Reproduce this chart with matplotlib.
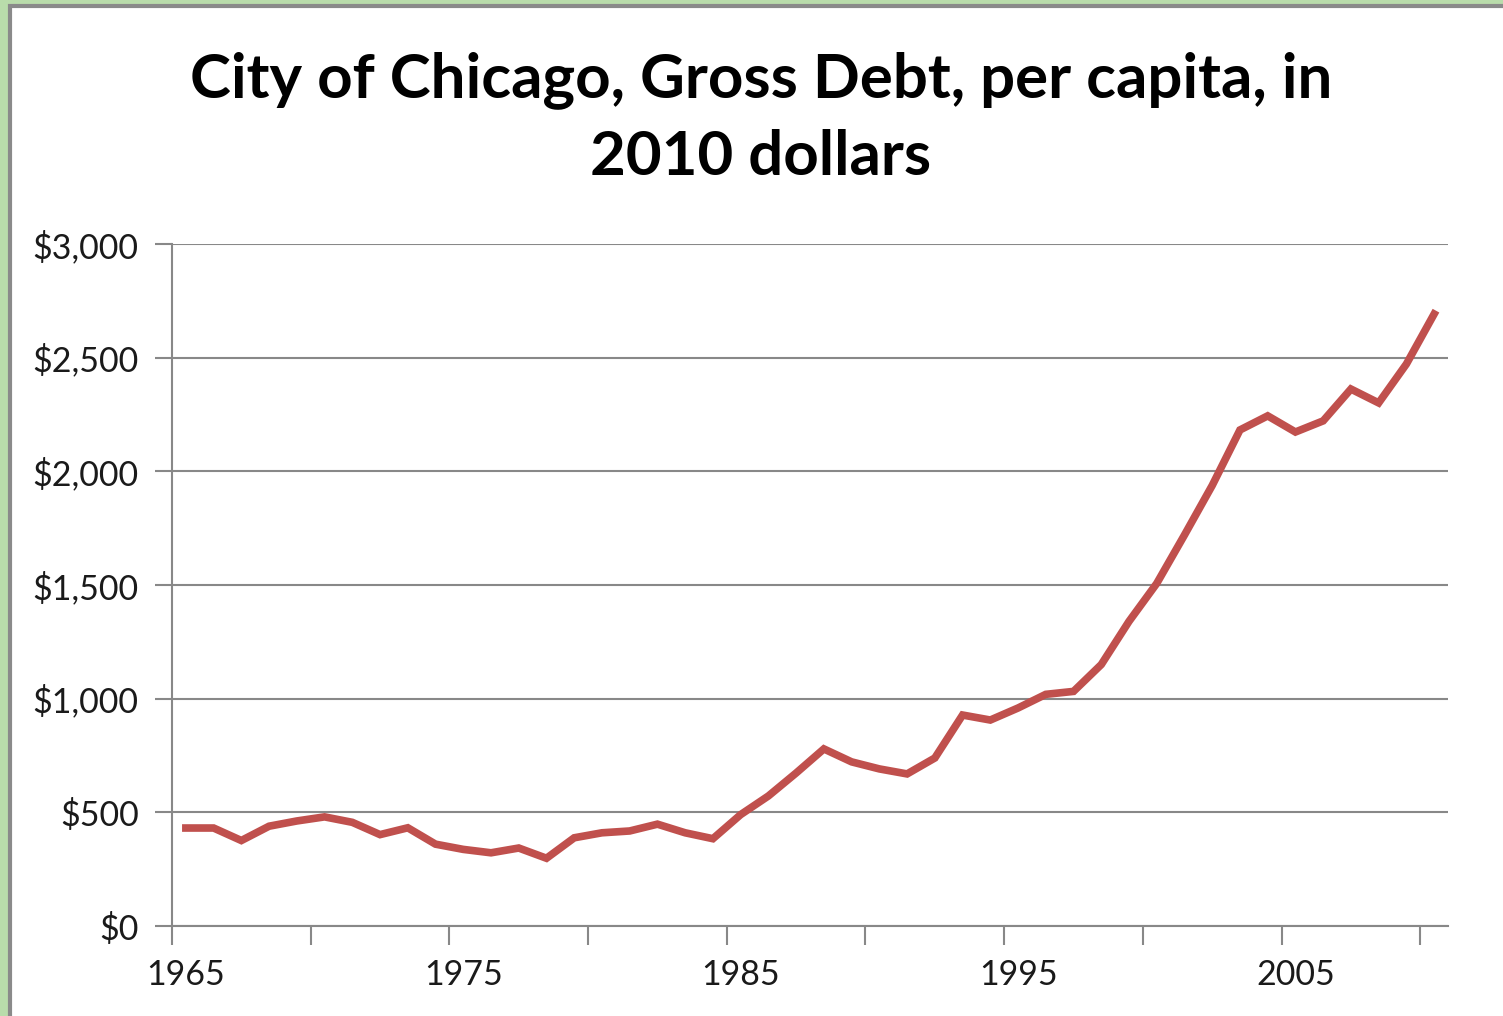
import matplotlib.pyplot as plt
from matplotlib.patches import Rectangle
from matplotlib.ticker import FixedLocator, FuncFormatter

years = list(range(1965, 2011))
debt = [431, 431, 376, 439, 462, 480, 456, 402, 432, 360,
        337, 322, 343, 298, 388, 410, 418, 448, 410, 384,
        490, 572, 673, 779, 722, 691, 669, 739, 928, 906,
        959, 1019, 1032, 1150, 1340, 1507, 1720, 1938, 2182, 2244,
        2173, 2222, 2362, 2301, 2472, 2692]
tick_labels = ["1965", "1975", "1985", "1995", "2005"]

plt.rcParams['font.family'] = ['Lato', 'DejaVu Sans']

fig = plt.figure(figsize=(15.03, 10.16), dpi=100)
fig.patch.set_facecolor("#b9dcab")
# white chart area with gray frame
fig.patches.append(Rectangle((9.5 / 1503, -0.1), 1.2, 1.1 - 5.5 / 1016,
                             transform=fig.transFigure, facecolor="white",
                             edgecolor="#8a8a8a", linewidth=3, zorder=-10))

ax = fig.add_axes([172 / 1503, 1 - 926 / 1016, (1448 - 172) / 1503, (926 - 244) / 1016])
ax.set_facecolor("white")

x = list(range(len(years)))
ax.plot(x, debt, color="#c0504d", linewidth=5.5, solid_joinstyle="miter", zorder=3)

ax.set_xlim(-0.5, len(years) - 0.5)
ax.set_ylim(0, 3000)

ax.set_yticks(range(0, 3001, 500))
ax.yaxis.set_major_formatter(FuncFormatter(lambda v, p: "${:,.0f}".format(v)))
ax.grid(axis="y", color="#888888", linewidth=1.5)
ax.set_axisbelow(True)

ax.xaxis.set_major_locator(FixedLocator([i - 0.5 for i in range(0, len(years), 5)]))
ax.xaxis.set_major_formatter(FuncFormatter(lambda v, p: ""))
ax.xaxis.set_minor_locator(FixedLocator([years.index(int(t)) for t in tick_labels]))
ax.set_xticklabels(tick_labels, minor=True)
ax.tick_params(axis="x", which="minor", length=0, pad=24)
ax.tick_params(axis="x", which="major", length=14, width=1.5, color="#888888")
ax.tick_params(axis="y", length=12, width=1.5, color="#888888", pad=12)
ax.tick_params(labelsize=24.5, labelcolor="#1a1a1a", which="both")

for s in ["top", "right"]:
    ax.spines[s].set_visible(False)
for s in ["left", "bottom"]:
    ax.spines[s].set_color("#888888")
    ax.spines[s].set_linewidth(1.5)

fig.text(761 / 1503, 1 - 118 / 1016, "City of Chicago, Gross Debt, per capita, in\n2010 dollars",
         ha="center", va="center", fontsize=44.5, fontweight="bold", linespacing=1.45)

fig.savefig("out.png", dpi=100, facecolor=fig.get_facecolor())
